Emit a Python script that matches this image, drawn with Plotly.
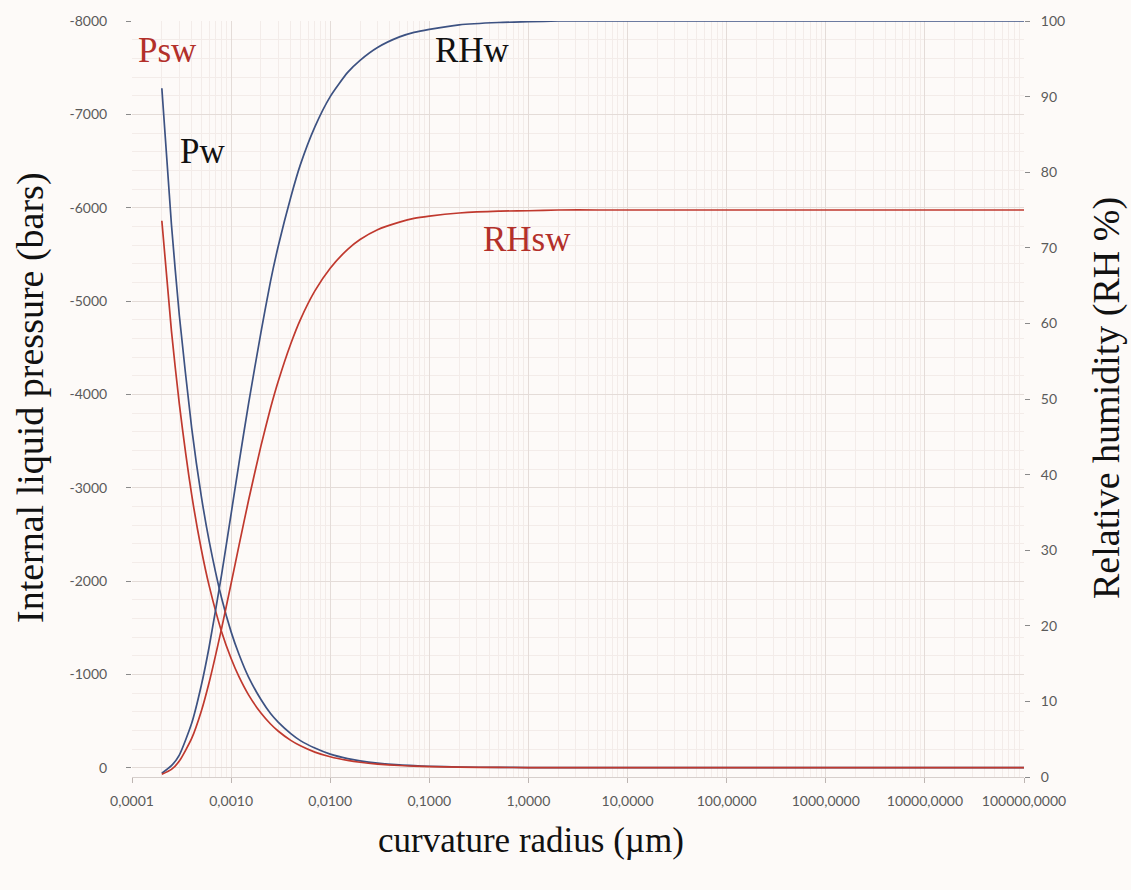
import plotly.graph_objects as go

# Curvature radius (µm)
radius_um = [0.0002, 0.00025, 0.0003, 0.0004, 0.0005, 0.0006, 0.0008, 0.001,
             0.0012, 0.0015, 0.002, 0.0025, 0.003, 0.004, 0.005, 0.007, 0.01,
             0.015, 0.02, 0.03, 0.05, 0.07, 0.1, 0.2, 0.5, 1, 2, 5, 10, 100,
             1000, 10000, 100000]

# Internal liquid pressure (bars): pure water and salt water
p_w = [-7280, -5820, -4850, -3640, -2910, -2430, -1820, -1455,
       -1215, -970, -730, -580, -485, -365, -290, -210, -145,
       -97, -73, -49, -29, -21, -15, -7, -3, -1.5, -0.7, -0.3, -0.1, 0,
       0, 0, 0]
p_sw = [-5860, -4680, -3900, -2925, -2340, -1950, -1460, -1170,
        -975, -780, -585, -468, -390, -292, -234, -167, -117,
        -78, -58, -39, -23, -17, -12, -6, -2.3, -1.2, -0.6, -0.2, -0.1, 0,
        0, 0, 0]

# Relative humidity (%) at equilibrium
rh_w = [0.5, 1.5, 2.9, 7.1, 12.1, 17.2, 26.7, 34.8,
        41.5, 49.4, 58.8, 65.6, 70.3, 76.7, 81.0, 86.0, 90.0,
        93.2, 94.8, 96.5, 97.9, 98.5, 98.9, 99.5, 99.8, 99.9, 100, 100, 100, 100,
        100, 100, 100]
rh_sw = [0.35, 1.0, 2.1, 5.1, 8.7, 12.5, 19.6, 25.6,
         30.6, 36.6, 43.8, 48.8, 52.4, 57.3, 60.5, 64.3, 67.3,
         69.8, 71.1, 72.4, 73.4, 73.9, 74.2, 74.6, 74.85, 74.9, 75, 75, 75, 75,
         75, 75, 75]

x_tickvals = [1e-4, 1e-3, 1e-2, 1e-1, 1, 10, 100, 1000, 10000, 100000]
x_ticktext = ["0,0001", "0,0010", "0,0100", "0,1000", "1,0000", "10,0000",
              "100,0000", "1000,0000", "10000,0000", "100000,0000"]
y_tickvals = [0, -1000, -2000, -3000, -4000, -5000, -6000, -7000, -8000]
y_ticktext = ["0", "-1000", "-2000", "-3000", "-4000", "-5000", "-6000",
              "-7000", "-8000"]

BLUE = "#3d5282"
RED = "#c0392e"
BG = "#fdfaf8"
GRID = "#e4dcd8"
GRID_MINOR = "#f3ece9"
TICK_FONT = dict(family="Lato", size=14, color="#5a5a5a")
SERIF = "Liberation Serif"

fig = go.Figure()
line_common = dict(width=1.7, shape="spline", smoothing=0.6)
fig.add_trace(go.Scatter(x=radius_um, y=p_w, mode="lines",
                         line=dict(color=BLUE, **line_common), name="Pw"))
fig.add_trace(go.Scatter(x=radius_um, y=p_sw, mode="lines",
                         line=dict(color=RED, **line_common), name="Psw"))
fig.add_trace(go.Scatter(x=radius_um, y=rh_w, mode="lines", yaxis="y2",
                         line=dict(color=BLUE, **line_common), name="RHw"))
fig.add_trace(go.Scatter(x=radius_um, y=rh_sw, mode="lines", yaxis="y2",
                         line=dict(color=RED, **line_common), name="RHsw"))

fig.update_layout(
    width=1131, height=890,
    margin=dict(l=132, r=107, t=21, b=113),
    paper_bgcolor=BG, plot_bgcolor=BG,
    showlegend=False,
    xaxis=dict(
        type="log", range=[-4, 5],
        tickmode="array", tickvals=x_tickvals, ticktext=x_ticktext,
        tickfont=TICK_FONT, ticks="outside", ticklen=5, tickcolor="#bdb5b2",
        ticklabelstandoff=6,
        showgrid=True, gridcolor=GRID, gridwidth=1,
        minor=dict(showgrid=True, gridcolor=GRID_MINOR, dtick="D1"),
        showline=True, linecolor="#d6cfcc", linewidth=1,
        zeroline=False,
    ),
    yaxis=dict(
        range=[100, -8000],
        tickmode="array", tickvals=y_tickvals, ticktext=y_ticktext,
        tickfont=TICK_FONT, ticks="outside", ticklen=5, tickcolor="#8a8a8a",
        ticklabelstandoff=16,
        showgrid=True, gridcolor=GRID, gridwidth=1,
        minor=dict(showgrid=True, gridcolor=GRID_MINOR, dtick=200),
        zeroline=False, showline=False,
    ),
    yaxis2=dict(
        range=[0, 100], overlaying="y", side="right",
        tickmode="linear", tick0=0, dtick=10,
        tickfont=TICK_FONT, ticks="outside", ticklen=5, tickcolor="#8a8a8a",
        ticklabelstandoff=8,
        showgrid=False, zeroline=False, showline=False,
    ),
)

def px_to_paper(px, py):
    return (px - 132) / 892, (777 - py) / 756

annotations = []
# axis titles
for text, (px, py), angle, size in [
    ("Internal liquid pressure (bars)", (30, 398), -90, 38),
    ("Relative humidity (RH %)", (1106, 398), -90, 38),
    ("curvature radius (µm)", (531, 840), 0, 35),
]:
    ax_, ay_ = px_to_paper(px, py)
    annotations.append(dict(text=text, x=ax_, y=ay_, xref="paper", yref="paper",
                            showarrow=False, textangle=angle,
                            font=dict(family=SERIF, size=size, color="#111111"),
                            xanchor="center", yanchor="middle"))
# curve labels
for text, (px, py), color in [
    ("Psw", (167, 50), "#b3302a"),
    ("Pw", (202, 152), "#111111"),
    ("RHw", (472, 50), "#111111"),
    ("RHsw", (527, 240), "#b3302a"),
]:
    ax_, ay_ = px_to_paper(px, py)
    annotations.append(dict(text=text, x=ax_, y=ay_, xref="paper", yref="paper",
                            showarrow=False,
                            font=dict(family=SERIF, size=35, color=color),
                            xanchor="center", yanchor="middle"))
fig.update_layout(annotations=annotations)

fig.write_html("out.html")
